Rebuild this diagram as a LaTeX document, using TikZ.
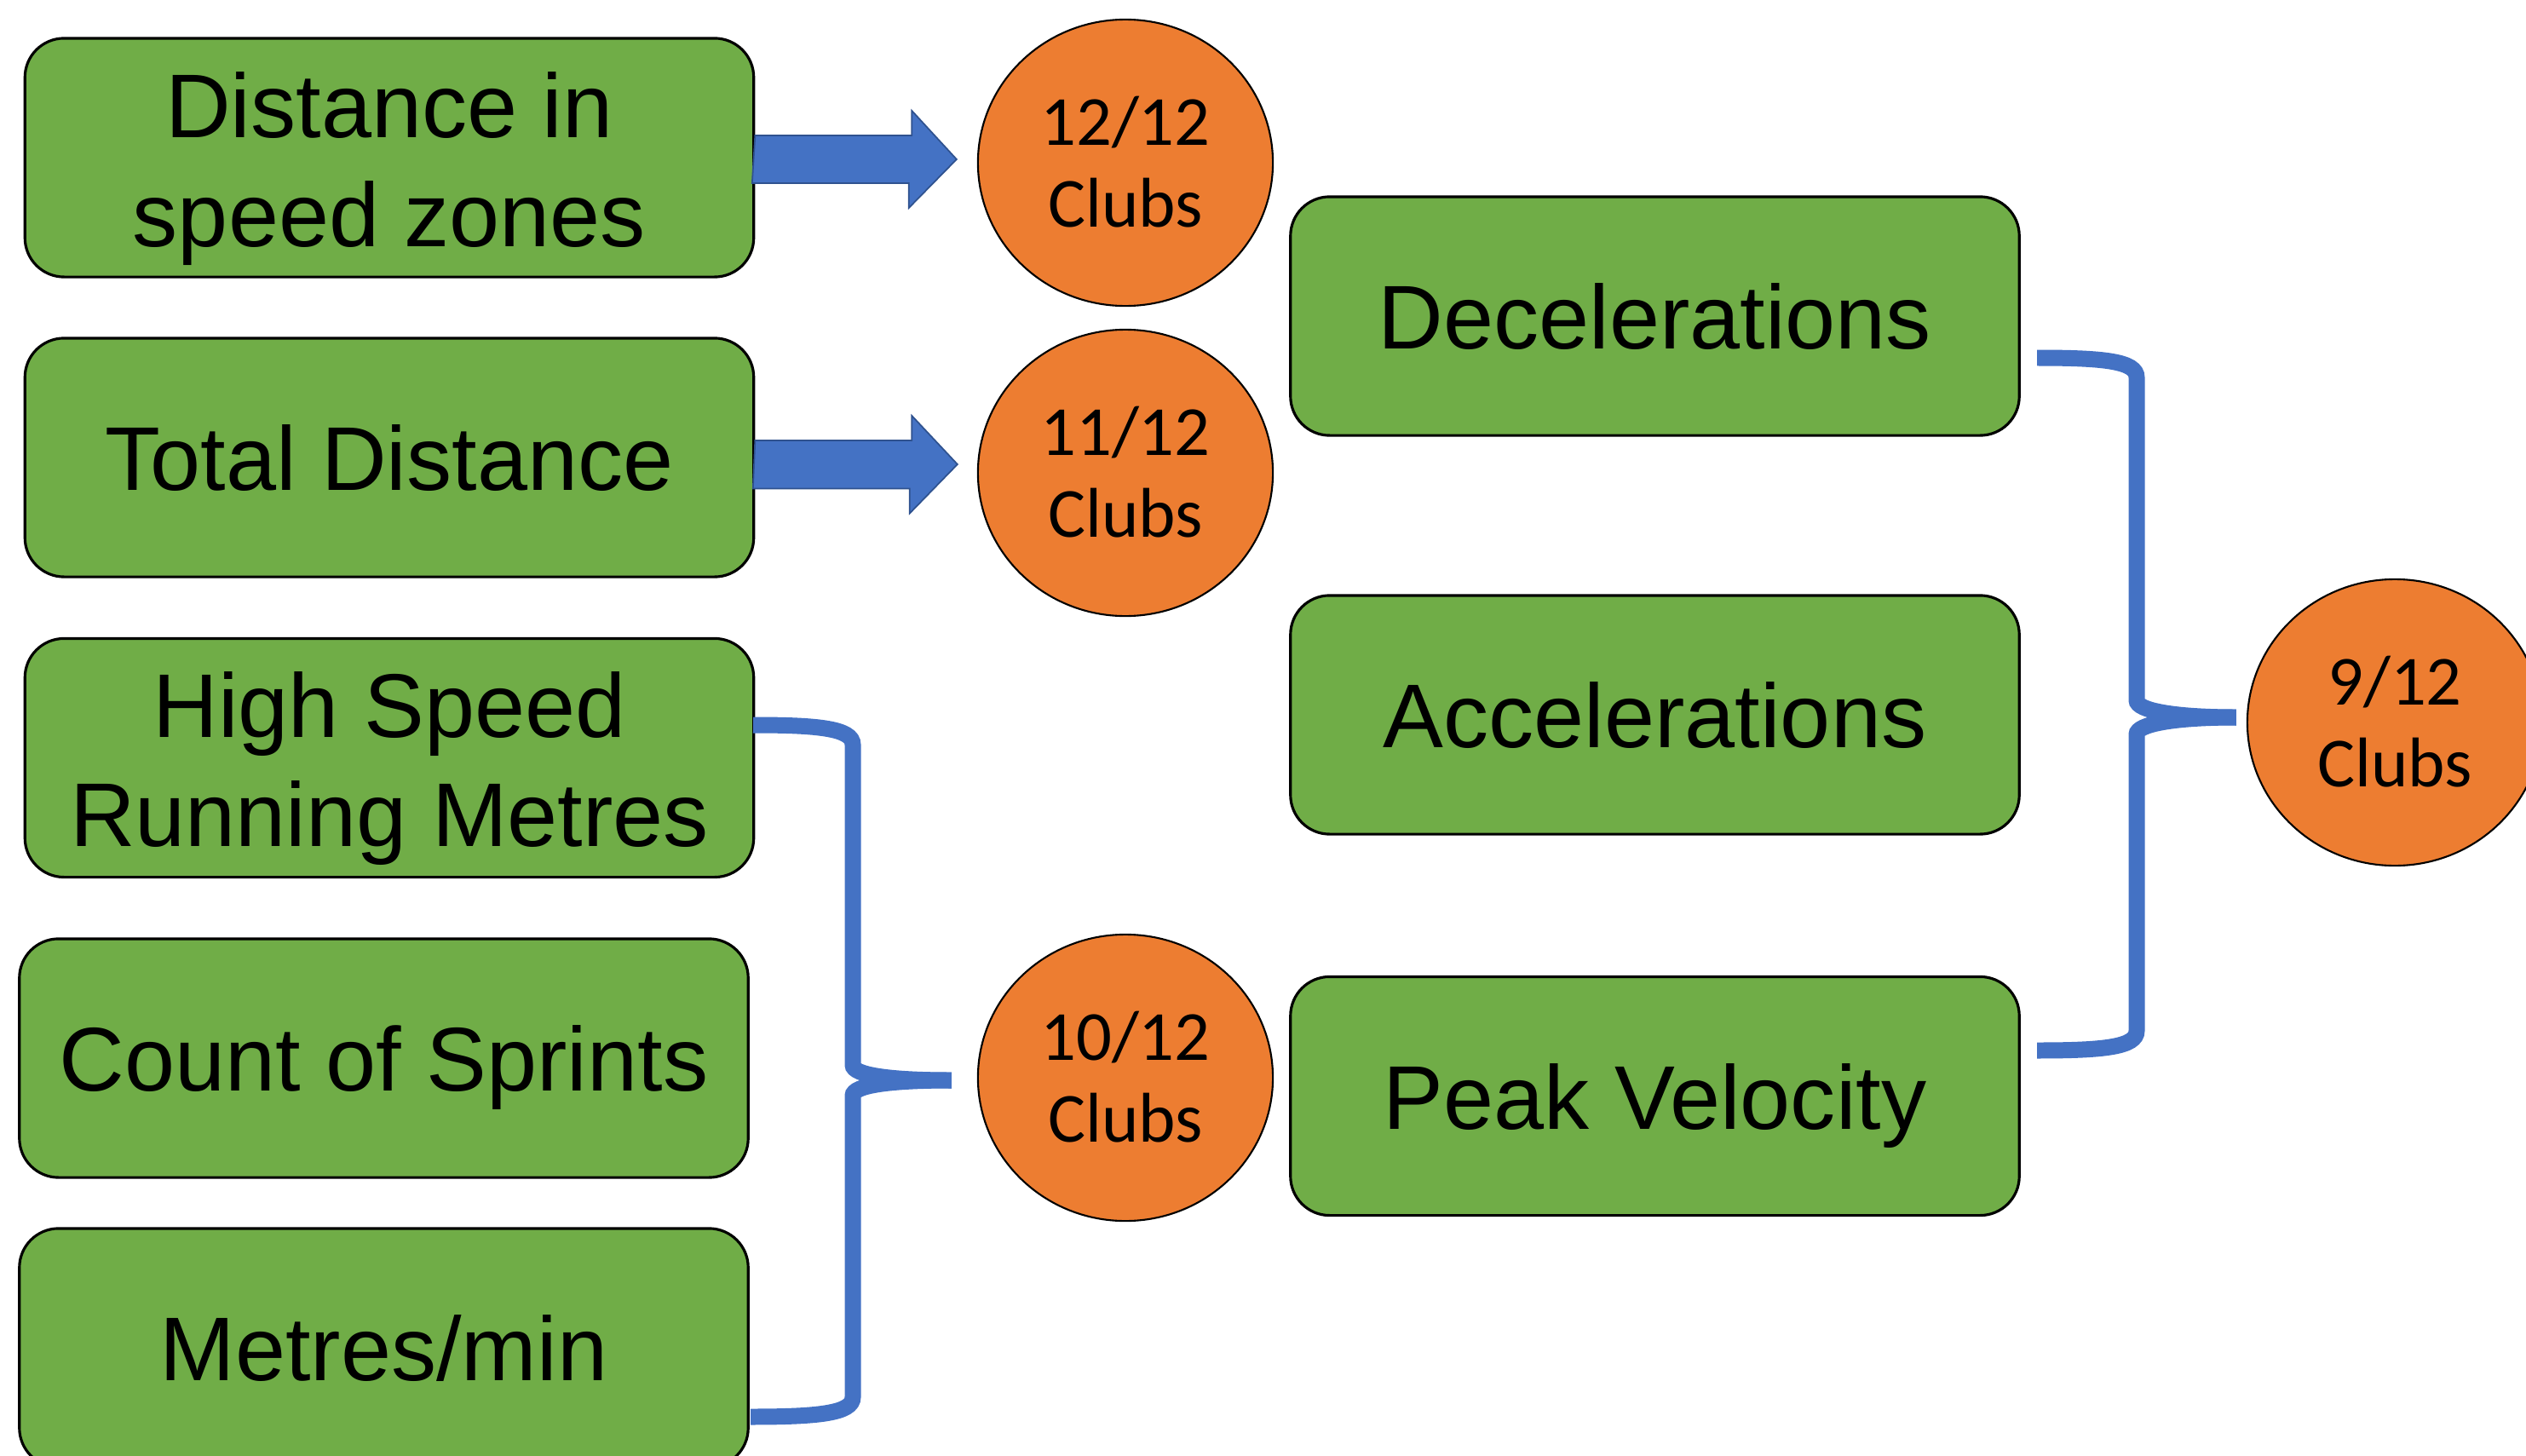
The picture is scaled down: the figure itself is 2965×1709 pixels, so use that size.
\documentclass[tikz,border=0pt]{standalone}
\usepackage{fontspec}
\setmainfont{Liberation Sans}
\newfontfamily\clubfont{Carlito}
\usetikzlibrary{shapes.geometric,calc}
\definecolor{boxgreen}{HTML}{70AD47}
\definecolor{clubor}{HTML}{ED7D31}
\definecolor{linkblue}{HTML}{4472C4}
\definecolor{arrowedge}{HTML}{2F528F}
\tikzset{
  metricbox/.style={draw=black, line width=0.9pt, fill=boxgreen, rounded corners=0.46cm,
    minimum width=8.55cm, minimum height=2.8cm, inner sep=0pt,
    font=\fontsize{30.2pt}{36.4pt}\selectfont, text height=22pt, text depth=0pt},
  twoline/.style={text height=2.08cm},
  clubcircle/.style={ellipse, draw=black, line width=0.6pt, fill=clubor,
    minimum width=3.46cm, minimum height=3.36cm, inner sep=0pt,
    font=\clubfont\fontsize{23.5pt}{27.2pt}\selectfont, text height=1.5cm, text depth=0pt},
  blockarrow/.style={fill=linkblue, draw=arrowedge, line width=0.5pt},
  bracket/.style={draw=linkblue, line width=5.4pt},
}
\newcommand{\twolinetext}[2]{\smash{\begin{tabular}[b]{@{}c@{}}#1\\#2\end{tabular}}}
\begin{document}
\begin{tikzpicture}[x=0.01cm,y=-0.01cm]
\useasboundingbox (0,0) rectangle (2965,1709);
\clip (0,0) rectangle (2965,1709);

% left column
\node[metricbox,twoline] (b1) at (457,185) {\twolinetext{Distance in}{speed zones}};
\node[metricbox] (b2) at (457,537) {Total Distance};
\node[metricbox,twoline] (b3) at (457,889.5) {\twolinetext{High Speed}{Running Metres}};
\node[metricbox] (b4) at (450.5,1242) {Count of Sprints};
\node[metricbox] (b5) at (450.5,1582) {Metres/min};

% right column
\node[metricbox] (d1) at (1942.5,371) {Decelerations};
\node[metricbox] (d2) at (1942.5,839) {Accelerations};
\node[metricbox] (d3) at (1942.5,1286.5) {Peak Velocity};

% circles
\node[clubcircle] (c1) at (1321,191) {\twolinetext{12/12}{Clubs}};
\node[clubcircle] (c2) at (1321,555) {\twolinetext{11/12}{Clubs}};
\node[clubcircle] (c3) at (1321,1265) {\twolinetext{10/12}{Clubs}};
\node[clubcircle] (c4) at (2811,848) {\twolinetext{9/12}{Clubs}};

% block arrows
\draw[blockarrow] ($(b1.east)+(0,-26)$) -- ++(184,0) -- ++(0,-29) -- ($(c1.west)+(-24,-4)$)
  -- ++(-56,57) -- ++(0,-29) -- ++(-184,0) -- cycle;
\draw[blockarrow] ($(b2.east)+(0,-20)$) -- ++(184,0) -- ++(0,-29) -- ($(c2.west)+(-23,-10)$)
  -- ++(-56,57.5) -- ++(0,-29) -- ++(-184,0) -- cycle;

% left brace
\coordinate (lbt) at (884,851);
\coordinate (lbb) at (881,1663);
\coordinate (lbm) at ($(c3.west)+(-30,3)$);
\draw[bracket] (lbt) .. controls (960,851) and (1001,855) .. (1001,874) -- (1001,1250)
  .. controls (1001,1262) and (1045,1268) .. (lbm);
\draw[bracket] (lbb) .. controls (960,1663) and (1001,1659) .. (1001,1640) -- (1001,1286)
  .. controls (1001,1274) and (1045,1268) .. (lbm);

% right brace
\coordinate (rbt) at (2391,420);
\coordinate (rbb) at (2391,1233);
\coordinate (rbm) at ($(c4.west)+(-12,-6)$);
\draw[bracket] (rbt) .. controls (2470,420) and (2508,424) .. (2508,443) -- (2508,822)
  .. controls (2508,834) and (2552,842) .. (rbm);
\draw[bracket] (rbb) .. controls (2470,1233) and (2508,1229) .. (2508,1210) -- (2508,862)
  .. controls (2508,850) and (2552,842) .. (rbm);
\end{tikzpicture}
\end{document}
